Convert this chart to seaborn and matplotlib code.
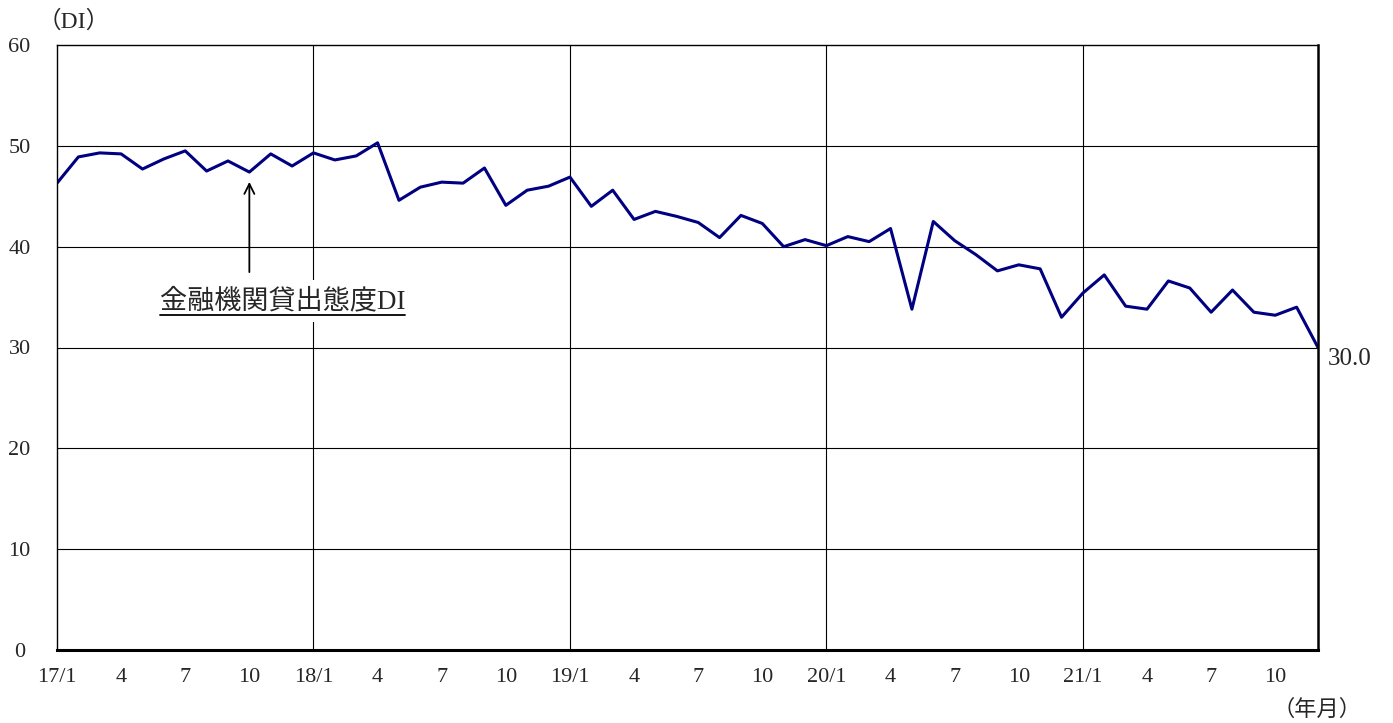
import matplotlib
matplotlib.use("Agg")
import matplotlib.pyplot as plt
import seaborn as sns
import numpy as np
import pandas as pd
from matplotlib.lines import Line2D

# monthly lending attitude DI, 2017/1 - 2021/12
years = ["17", "18", "19", "20", "21"]
di_2017 = [46.3, 48.9, 49.3, 49.2, 47.7, 48.7, 49.5, 47.5, 48.5, 47.4, 49.2, 48.0]
di_2018 = [49.3, 48.6, 49.0, 50.3, 44.6, 45.9, 46.4, 46.3, 47.8, 44.1, 45.6, 46.0]
di_2019 = [46.9, 44.0, 45.6, 42.7, 43.5, 43.0, 42.4, 40.9, 43.1, 42.3, 40.0, 40.7]
di_2020 = [40.1, 41.0, 40.5, 41.8, 33.8, 42.5, 40.6, 39.2, 37.6, 38.2, 37.8, 33.0]
di_2021 = [35.4, 37.2, 34.1, 33.8, 36.6, 35.9, 33.5, 35.7, 33.5, 33.2, 34.0, 30.0]
label_months = [1, 4, 7, 10]
y_ticks = [0, 10, 20, 30, 40, 50, 60]

di = di_2017 + di_2018 + di_2019 + di_2020 + di_2021
df = pd.DataFrame({"idx": np.arange(len(di)), "di": di})

sns.set_style("white")
plt.rcParams['font.family'] = ['Liberation Serif', 'Noto Sans CJK JP']

fig = plt.figure(figsize=(13.93, 7.23), dpi=100)
ax = fig.add_axes([57 / 1393, 1 - 650 / 723, (1318 - 57) / 1393, (650 - 45) / 723])

sns.lineplot(data=df, x="idx", y="di", ax=ax, color="#000080", linewidth=2.2)

ax.set_xlim(0, len(di) - 1)
ax.set_ylim(0, 60)

# grid: horizontal every 10, vertical at each January
for v in y_ticks[1:-1]:
    ax.axhline(v, color="black", linewidth=0.8, zorder=0)
for i in range(1, len(years)):
    ax.axvline(i * 12, color="black", linewidth=0.8, zorder=0)

ax.set_yticks(y_ticks)
ax.set_yticklabels([str(v) for v in y_ticks], fontsize=16, ha="center")
ax.tick_params(axis="y", length=0, pad=27)

ax.set_xticks(np.arange(len(di)), minor=True)
major = []
major_labels = []
for yi, yr in enumerate(years):
    for m in label_months:
        major.append(yi * 12 + m - 1)
        major_labels.append(f"{yr}/1" if m == 1 else str(m))
ax.set_xticks(major)
ax.set_xticklabels(major_labels, fontsize=16)
ax.tick_params(axis="x", which="both", direction="in", length=5, width=1, color="black", pad=13)

ax.set_xlabel("")
ax.set_ylabel("")
for s in ["top", "left"]:
    ax.spines[s].set_color("black")
    ax.spines[s].set_linewidth(1.0)
ax.spines["right"].set_color("black")
ax.spines["right"].set_linewidth(1.8)
ax.spines["bottom"].set_color("black")
ax.spines["bottom"].set_linewidth(2.2)

# last value label
ax.text(len(di) - 1 + 0.45, di[-1] - 1.1, f"{di[-1]:.1f}", fontsize=18, ha="left", va="center",
        clip_on=False)

# unit labels
fig.text(38 / 1393, 1 - 22 / 723, "（DI）", fontsize=17, ha="left", va="center")
fig.text(1362 / 1393, 1 - 710 / 723, "（年月）", fontsize=16, ha="right", va="center")

# series annotation with arrow
ax.annotate("", xy=(9, di[9] - 0.7), xytext=(9, 37.2),
            arrowprops=dict(arrowstyle="->", color="black", lw=1.3, mutation_scale=18))
lab = ax.text(10.55, 34.6, "金融機関貸出態度DI", fontsize=19.5, ha="center", va="center",
              bbox=dict(facecolor="white", edgecolor="none", pad=6))

fig.canvas.draw()
bb = lab.get_window_extent().transformed(fig.transFigure.inverted())
fig.add_artist(Line2D([bb.x0, bb.x1], [bb.y0 - 0.002, bb.y0 - 0.002], color="black",
                      linewidth=1.3, transform=fig.transFigure))

fig.savefig("out.png", dpi=100)
